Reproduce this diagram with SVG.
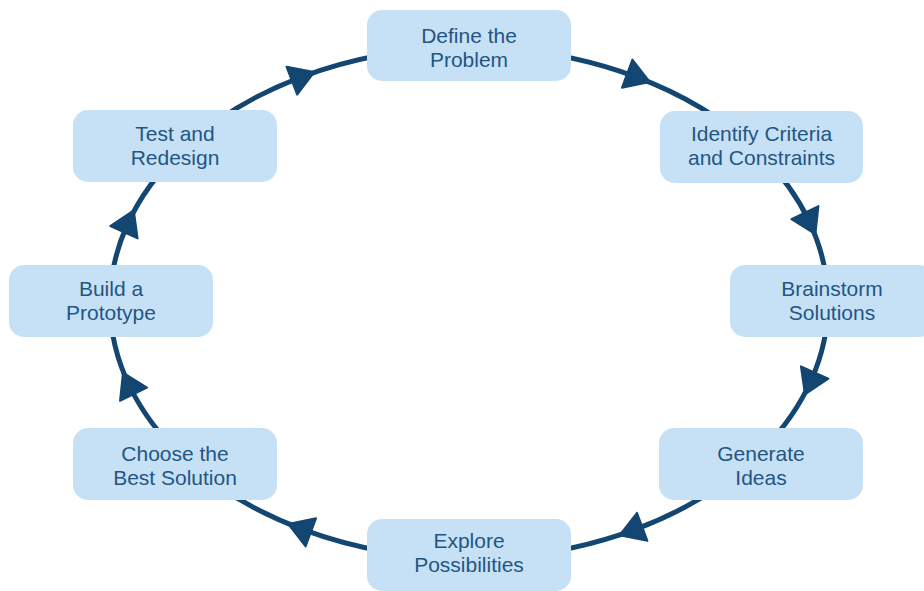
<svg xmlns="http://www.w3.org/2000/svg" width="924" height="591" viewBox="0 0 924 591">
  <style>
    .box { fill: #c6e1f6; }
    .lbl { font-family: "Liberation Sans", Arial, Helvetica, sans-serif; font-size: 21px; fill: #245583; text-anchor: middle; }
    .conn { fill: none; stroke: #144672; stroke-width: 5; marker-mid: url(#arrow); }
  </style>
  <defs>
    <marker id="arrow" viewBox="-11 -18 30 36" refX="0" refY="0" markerWidth="30" markerHeight="36" markerUnits="userSpaceOnUse" orient="auto">
      <path d="M16,0 L-8,-15 L-8,15 Z" fill="#144672" stroke="#144672" stroke-width="2" stroke-linejoin="round"/>
    </marker>
  </defs>
  <rect width="924" height="591" fill="#ffffff"/>
  <g id="connectors">
    <path class="conn" d="M469,47.5 A359,255.5 0 0 1 634.7,76.4 A359,255.5 0 0 1 756.1,149.6"/>
    <path class="conn" d="M756.1,149.6 A359,255.5 0 0 1 808.4,219.8 A359,255.5 0 0 1 828,303"/>
    <path class="conn" d="M828,303 A359,255.5 0 0 1 811.4,379.8 A359,255.5 0 0 1 756.1,456.4"/>
    <path class="conn" d="M756.1,456.4 A359,255.5 0 0 1 634.7,529.6 A359,255.5 0 0 1 469,558.5"/>
    <path class="conn" d="M469,558.5 A359,255.5 0 0 1 303.3,529.6 A359,255.5 0 0 1 181.9,456.4"/>
    <path class="conn" d="M181.9,456.4 A359,255.5 0 0 1 130,387 A359,255.5 0 0 1 110,303"/>
    <path class="conn" d="M110,303 A359,255.5 0 0 1 127.2,224.9 A359,255.5 0 0 1 181.9,149.6"/>
    <path class="conn" d="M181.9,149.6 A359,255.5 0 0 1 299.3,77.8 A359,255.5 0 0 1 469,47.5"/>
  </g>
  <g id="define">
    <rect class="box" x="367" y="10" width="204" height="71" rx="15"/>
    <text class="lbl" x="469" y="43">Define the</text>
    <text class="lbl" x="469" y="67">Problem</text>
  </g>
  <g id="identify">
    <rect class="box" x="660" y="111" width="203" height="72" rx="15"/>
    <text class="lbl" x="761.5" y="141">Identify Criteria</text>
    <text class="lbl" x="761.5" y="165">and Constraints</text>
  </g>
  <g id="brainstorm">
    <rect class="box" x="730" y="265" width="204" height="72" rx="15"/>
    <text class="lbl" x="832" y="296">Brainstorm</text>
    <text class="lbl" x="832" y="320">Solutions</text>
  </g>
  <g id="generate">
    <rect class="box" x="659" y="428" width="204" height="72" rx="15"/>
    <text class="lbl" x="761" y="461">Generate</text>
    <text class="lbl" x="761" y="485">Ideas</text>
  </g>
  <g id="explore">
    <rect class="box" x="367" y="519" width="204" height="72" rx="15"/>
    <text class="lbl" x="469" y="548">Explore</text>
    <text class="lbl" x="469" y="572">Possibilities</text>
  </g>
  <g id="choose">
    <rect class="box" x="73" y="428" width="204" height="72" rx="15"/>
    <text class="lbl" x="175" y="461">Choose the</text>
    <text class="lbl" x="175" y="485">Best Solution</text>
  </g>
  <g id="build">
    <rect class="box" x="9" y="265" width="204" height="72" rx="15"/>
    <text class="lbl" x="111" y="296">Build a</text>
    <text class="lbl" x="111" y="320">Prototype</text>
  </g>
  <g id="test">
    <rect class="box" x="73" y="110" width="204" height="72" rx="15"/>
    <text class="lbl" x="175" y="141">Test and</text>
    <text class="lbl" x="175" y="165">Redesign</text>
  </g>
</svg>
